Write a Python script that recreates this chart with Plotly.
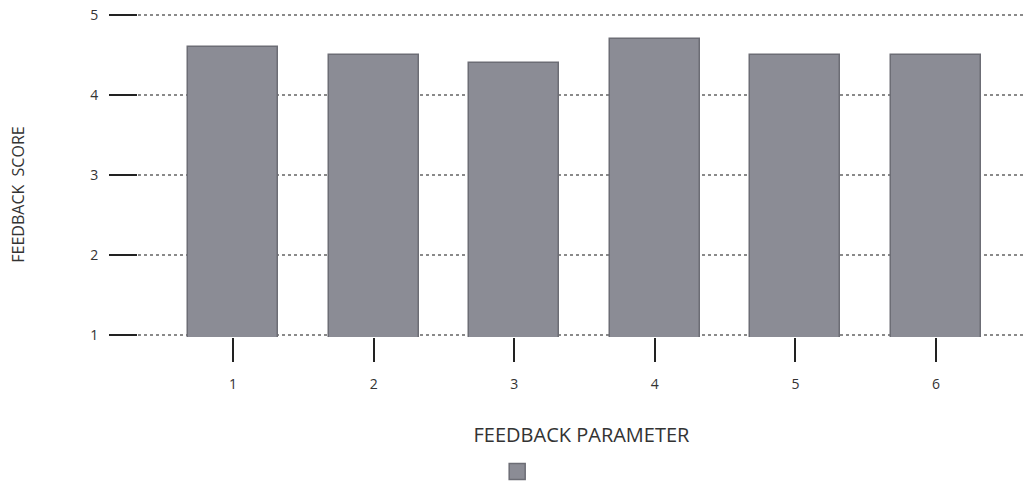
import plotly.graph_objects as go

# feedback parameters and the average score for each one
parameters = [1, 2, 3, 4, 5, 6]
scores = [4.6, 4.5, 4.4, 4.7, 4.5, 4.5]
score_ticks = [1, 2, 3, 4, 5]

BAR_FILL = '#8b8c95'
BAR_EDGE = '#6c6d75'
FONT = 'Open Sans'

fig = go.Figure()

fig.add_trace(go.Bar(
    x=parameters,
    y=scores,
    width=0.64,
    marker=dict(color=BAR_FILL, line=dict(color=BAR_EDGE, width=1.5)),
    showlegend=False,
))

# legend swatch (the original legend has no label text)
fig.add_trace(go.Scatter(
    x=[None], y=[None],
    mode='markers',
    name=' ',
    marker=dict(symbol='square', size=24, color=BAR_FILL,
                line=dict(color=BAR_EDGE, width=1.5)),
    showlegend=True,
))

fig.update_layout(
    width=1025,
    height=486,
    margin=dict(l=138, r=0, t=13, b=141),
    template='plotly_white',
    plot_bgcolor='white',
    paper_bgcolor='white',
    font=dict(family=FONT, size=14, color='#333333'),
    bargap=0,
    legend=dict(
        orientation='h',
        x=0.432, y=-0.37,
        xanchor='center', yanchor='top',
        font=dict(size=10),
        itemsizing='trace',
    ),
    xaxis=dict(
        range=[0.324, 6.633],
        tickvals=parameters,
        ticks='outside',
        ticklen=24,
        tickwidth=2,
        tickcolor='#222222',
        ticklabelstandoff=10,
        showgrid=False,
        zeroline=False,
        showline=False,
        title=dict(text='FEEDBACK PARAMETER', standoff=36,
                   font=dict(size=20, color='#333333')),
        automargin=False,
    ),
    yaxis=dict(
        range=[0.97, 5.03],
        tickvals=score_ticks,
        ticks='outside',
        ticklen=28,
        tickwidth=2,
        tickcolor='#222222',
        ticklabelstandoff=8,
        ticklabeloverflow='allow',
        showgrid=True,
        gridcolor='#8a8a8a',
        griddash='dot',
        gridwidth=1.5,
        zeroline=False,
        showline=False,
        automargin=False,
    ),
    annotations=[dict(
        text='FEEDBACK  SCORE',
        xref='paper', yref='paper',
        x=-0.135, y=0.44,
        xanchor='center', yanchor='middle',
        textangle=-90,
        showarrow=False,
        font=dict(size=16, color='#333333'),
    )],
)

# drop the page's default 8px body margin so the figure sits at 0,0
fig.write_html("out.html", config={'displayModeBar': False},
               post_script="document.body.style.margin='0';")
